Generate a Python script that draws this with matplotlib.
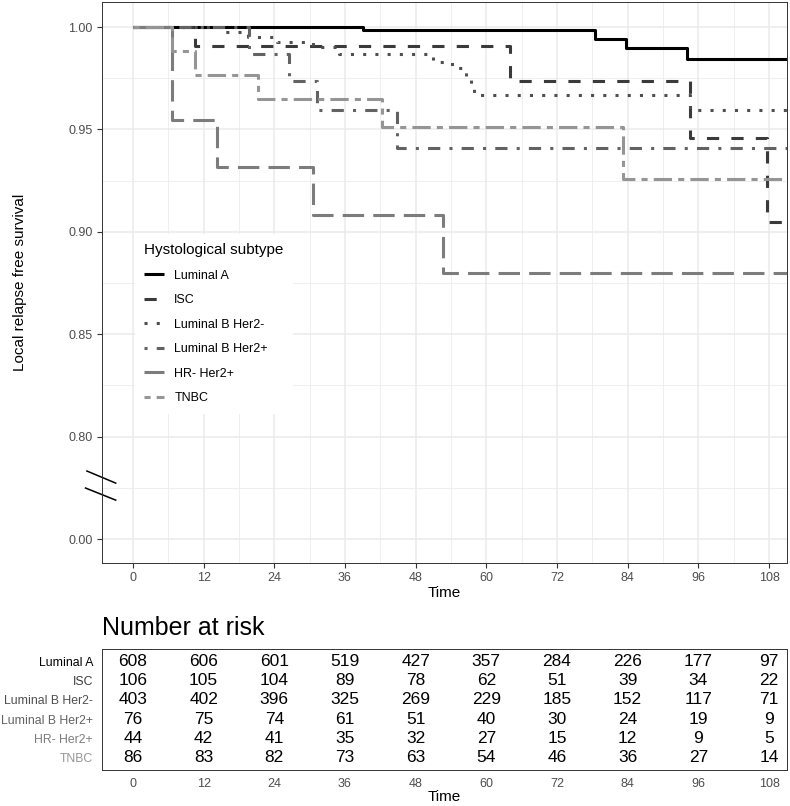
import numpy as np
import matplotlib.pyplot as plt
from matplotlib.transforms import blended_transform_factory

plt.rcParams['font.family'] = ['Liberation Sans', 'DejaVu Sans']

### data ###

groups = ['Luminal A', 'ISC', 'Luminal B Her2-', 'Luminal B Her2+', 'HR- Her2+', 'TNBC']

# survival curves (time in months, KM estimate)
t_luma = [0, 39.0, 78.5, 83.7, 94.1]
s_luma = [1.0, 0.9984, 0.9941, 0.9896, 0.9842]
t_isc = [0, 10.5, 64.0, 94.5, 107.7]
s_isc = [1.0, 0.9905, 0.9736, 0.9458, 0.9050]
t_lumb_neg = [0, 15.7, 19.5, 24.5, 30.5, 35.0, 51.0, 53.5, 54.5, 56.5, 57.4, 57.9, 94.5]
s_lumb_neg = [1.0, 0.9975, 0.9950, 0.9925, 0.9900, 0.9868, 0.9830, 0.9817, 0.9800, 0.9756, 0.9717, 0.9668, 0.9595]
t_lumb_pos = [0, 19.7, 26.5, 31.3, 44.8]
s_lumb_pos = [1.0, 0.9868, 0.9737, 0.9594, 0.9409]
t_her2 = [0, 6.6, 14.3, 30.5, 52.7]
s_her2 = [1.0, 0.9545, 0.9318, 0.9083, 0.8797]
t_tnbc = [0, 6.6, 10.5, 21.2, 42.3, 83.2]
s_tnbc = [1.0, 0.9884, 0.9767, 0.9650, 0.9510, 0.9257]

times = [t_luma, t_isc, t_lumb_neg, t_lumb_pos, t_her2, t_tnbc]
survs = [s_luma, s_isc, s_lumb_neg, s_lumb_pos, s_her2, s_tnbc]

# number at risk
risk_times = [0, 12, 24, 36, 48, 60, 72, 84, 96, 108]
risk_luma = [608, 606, 601, 519, 427, 357, 284, 226, 177, 97]
risk_isc = [106, 105, 104, 89, 78, 62, 51, 39, 34, 22]
risk_lumb_neg = [403, 402, 396, 325, 269, 229, 185, 152, 117, 71]
risk_lumb_pos = [76, 75, 74, 61, 51, 40, 30, 24, 19, 9]
risk_her2 = [44, 42, 41, 35, 32, 27, 15, 12, 9, 5]
risk_tnbc = [86, 83, 82, 73, 63, 54, 46, 36, 27, 14]
risk = [risk_luma, risk_isc, risk_lumb_neg, risk_lumb_pos, risk_her2, risk_tnbc]

y_ticks = [0.75, 0.80, 0.85, 0.90, 0.95, 1.00]
y_ticklabels = ['0.00', '0.80', '0.85', '0.90', '0.95', '1.00']

### style ###

colors = ['#000000', '#3a3a3a', '#4f4f4f', '#626262', '#7c7c7c', '#959595']
styles = [(0, ()), (0, (4, 4)), (0, (1, 3)), (0, (1, 3, 4, 3)), (0, (7, 3)), (0, (2, 2, 6, 2))]
grid_c = '#EBEBEB'
border_c = '#333333'
tick_c = '#4D4D4D'
xlim = (-5.26, 111.05)

fig = plt.figure(figsize=(7.9, 8.06), dpi=100)

### survival plot ###

ax = fig.add_axes([0.1291, 0.3015, 0.8671, 0.6960])
for t, s, g, c, ls in zip(times, survs, groups, colors, styles):
    ax.step(t + [115], s + [s[-1]], where='post', color=c, linestyle=ls,
            linewidth=2.2, label=g, dash_capstyle='butt')

ax.set_xlim(*xlim)
ax.set_ylim(0.7383, 1.0122)
ax.set_xticks(risk_times)
ax.set_xticks(np.arange(6, 108, 12), minor=True)
ax.set_yticks(y_ticks)
ax.set_yticklabels(y_ticklabels)
ax.set_yticks(np.arange(0.775, 1.0, 0.05), minor=True)
ax.grid(which='major', color=grid_c, linewidth=1.1)
ax.grid(which='minor', color=grid_c, linewidth=0.55)
ax.set_axisbelow(True)
ax.tick_params(which='major', length=3.8, width=0.8, color=border_c, labelsize=9, labelcolor=tick_c, pad=3)
ax.tick_params(which='minor', length=0)
for sp in ax.spines.values():
    sp.set_color(border_c)
    sp.set_linewidth(0.7)
ax.set_xlabel('Time', fontsize=11, labelpad=1)
fig.text(20 / 790, 1 - 282.5 / 806, 'Local relapse free survival', rotation=90,
         ha='center', va='center', fontsize=11)

# axis break marks between 0.80 and 0.00
tr = blended_transform_factory(ax.transAxes, ax.transData)
ax.plot([-0.022, 0.020], [0.7832, 0.7773], color='black', linewidth=1.1, transform=tr, clip_on=False)
ax.plot([-0.024, 0.020], [0.7749, 0.7690], color='black', linewidth=1.1, transform=tr, clip_on=False)

leg = ax.legend(title='Hystological subtype', loc='upper left', bbox_to_anchor=(0.048, 0.5865),
                borderaxespad=0, fontsize=9, title_fontsize=11, fancybox=False,
                edgecolor='none', facecolor='white', framealpha=1, handlelength=1.6,
                handletextpad=0.8, labelspacing=1.0, borderpad=0.75, alignment='left')

### number at risk table ###

ax2 = fig.add_axes([0.1291, 0.04467, 0.8671, 0.1501])
ax2.set_xlim(*xlim)
ax2.set_ylim(6.65, 0.35)
for i, row in enumerate(risk):
    for t, n in zip(risk_times, row):
        ax2.text(t, i + 1, str(n), ha='center', va='center', fontsize=12.5)
ax2.set_xticks(risk_times)
ax2.set_yticks(range(1, 7))
ax2.set_yticklabels(groups)
for lbl, c in zip(ax2.get_yticklabels(), colors):
    lbl.set_color(c)
ax2.tick_params(axis='y', length=0, labelsize=8.8, pad=6.5)
ax2.tick_params(axis='x', length=0, labelsize=9, labelcolor=tick_c, pad=6)
for sp in ax2.spines.values():
    sp.set_color(border_c)
    sp.set_linewidth(0.7)
ax2.set_xlabel('Time', fontsize=11, labelpad=0)
ax2.text(0, 1.116, 'Number at risk', transform=ax2.transAxes, fontsize=18,
         ha='left', va='baseline')

fig.savefig('out.png', dpi=100)
